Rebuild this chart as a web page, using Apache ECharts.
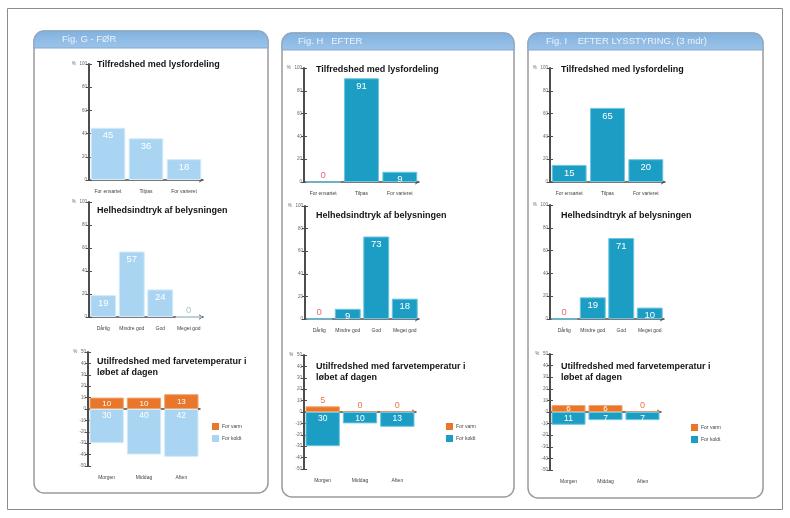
<!DOCTYPE html>
<html>
<head>
<meta charset="utf-8">
<script src="https://cdn.jsdelivr.net/npm/echarts/dist/echarts.min.js"></script>
<style>
  html, body { margin: 0; padding: 0; background: #fff; }
  #c { width: 790px; height: 518px; }
</style>
</head>
<body>
<div id="c"></div>
<script>
// ---- data -------------------------------------------------------------
const panelTitles = ['Fig. G - FØR', 'Fig. H   EFTER', 'Fig. I    EFTER LYSSTYRING, (3 mdr)'];
const chartTitles = ['Tilfredshed med lysfordeling', 'Helhedsindtryk af belysningen',
                     'Utilfredshed med farvetemperatur i\nløbet af dagen'];

const fordelingCats = ['For ensartet', 'Tilpas', 'For varieret'];
const fordelingFoer = [45, 36, 18];
const fordelingEfter = [0, 91, 9];
const fordelingStyring = [15, 65, 20];

const indtrykCats = ['Dårlig', 'Mindre god', 'God', 'Meget god'];
const indtrykFoer = [19, 57, 24, 0];
const indtrykEfter = [0, 9, 73, 18];
const indtrykStyring = [0, 19, 71, 10];

const dagCats = ['Morgen', 'Middag', 'Aften'];
const legendNames = ['For varm', 'For koldt'];
const forVarmFoer = [10, 10, 13];
const forKoldtFoer = [-30, -40, -42];
const forVarmEfter = [5, 0, 0];
const forKoldtEfter = [-30, -10, -13];
const forVarmStyring = [6, 6, 0];
const forKoldtStyring = [-11, -7, -7];

const pctAxis = { min: 0, max: 100, interval: 20 };
const tempAxis = { min: -50, max: 50, interval: 10 };

// ---- styling ----------------------------------------------------------
const FONT = '"Liberation Sans", Arial, sans-serif';
const C = {
  light: '#a9d5f2', lightEdge: '#d4ebfa',
  teal: '#1c9dc4', tealEdge: '#6cc5e0',
  orange: '#e8772b', orangeEdge: '#f3a56c',
  axis: '#4d4d4d', tick: '#6a6a6a',
  zeroRed: '#e46b78', zeroPale: '#9fcbc2', zeroOrange: '#e8774a'
};

const panels = [
  { title: panelTitles[0], fill: C.light, edge: C.lightEdge, zero: C.zeroPale,
    fordeling: fordelingFoer, indtryk: indtrykFoer, varm: forVarmFoer, koldt: forKoldtFoer,
    box: { x: 34, y: 31, w: 234, h: 462 }, titleX: 97, headX: 62,
    grids: [{ l: 89, r: 203, t: 64, b: 180 }, { l: 89, r: 203, t: 202, b: 317 }, { l: 88, r: 200, t: 352, b: 466 }],
    titleY: [59, 205, 356], legend: { x: 212, y: 423 } },
  { title: panelTitles[1], fill: C.teal, edge: C.tealEdge, zero: C.zeroRed,
    fordeling: fordelingEfter, indtryk: indtrykEfter, varm: forVarmEfter, koldt: forKoldtEfter,
    box: { x: 282, y: 33, w: 232, h: 464 }, titleX: 316, headX: 298,
    grids: [{ l: 304, r: 419, t: 68, b: 182 }, { l: 305, r: 419, t: 206, b: 319 }, { l: 304, r: 416, t: 355, b: 469 }],
    titleY: [64, 210, 361], legend: { x: 446, y: 423 } },
  { title: panelTitles[2], fill: C.teal, edge: C.tealEdge, zero: C.zeroRed,
    fordeling: fordelingStyring, indtryk: indtrykStyring, varm: forVarmStyring, koldt: forKoldtStyring,
    box: { x: 528, y: 33, w: 235, h: 465 }, titleX: 561, headX: 546,
    grids: [{ l: 550, r: 665, t: 68, b: 182 }, { l: 550, r: 664, t: 205, b: 319 }, { l: 550, r: 661, t: 354, b: 470 }],
    titleY: [64, 210, 361], legend: { x: 691, y: 424 } }
];

const option = {
  animation: false,
  backgroundColor: '#fff',
  textStyle: { fontFamily: FONT },
  title: [], legend: [], grid: [], xAxis: [], yAxis: [], series: [], graphic: []
};

// outer frame
option.graphic.push({
  type: 'rect', z: -20, silent: true,
  shape: { x: 7.5, y: 8.5, width: 775, height: 501 },
  style: { fill: '#fff', stroke: '#8c8c8c', lineWidth: 1 }
});

// two y axes on the left of each grid: one with outward ticks and labels,
// one with inward ticks, so the ticks cross the axis line
function yAxes(gi, scale) {
  const top = scale.max;
  const common = {
    gridIndex: gi, type: 'value', position: 'left',
    min: scale.min, max: scale.max, interval: scale.interval,
    splitLine: { show: false }
  };
  return [
    Object.assign({}, common, {
      axisLine: { show: true, onZero: false, lineStyle: { color: C.axis, width: 2 } },
      axisTick: { show: true, length: 3, lineStyle: { color: C.axis, width: 1 } },
      axisLabel: { fontSize: 4.5, color: C.tick, margin: 2,
                   formatter: v => (v === top ? '%   ' + v : String(v)) }
    }),
    Object.assign({}, common, {
      axisLine: { show: false, onZero: false },
      axisTick: { show: true, inside: true, length: 3, lineStyle: { color: C.axis, width: 1 } },
      axisLabel: { show: false }
    })
  ];
}

function gridOf(g) {
  return { left: g.l, top: g.t, width: g.r - g.l, height: g.b - g.t, containLabel: false };
}

function addBarChart(p, g, cats, values) {
  const gi = option.grid.length;
  option.grid.push(gridOf(g));
  const xi = option.xAxis.length;
  option.xAxis.push({
    gridIndex: gi, type: 'category', data: cats,
    axisLine: { lineStyle: { color: C.axis, width: 1.5 }, symbol: ['none', 'arrow'], symbolSize: [4, 4] },
    axisTick: { show: false },
    axisLabel: { interval: 0, fontSize: 5, color: '#444', margin: 9 }
  });
  const yi = option.yAxis.length;
  option.yAxis.push(...yAxes(gi, pctAxis));
  option.series.push({
    type: 'bar', xAxisIndex: xi, yAxisIndex: yi,
    barCategoryGap: '9%',
    itemStyle: { color: p.fill, borderColor: p.edge, borderWidth: 1 },
    label: { show: true, position: 'insideTop', distance: 3, color: '#fff', fontSize: 9.5 },
    data: values.map(v => v === 0
      ? { value: v, label: { position: 'top', distance: 1, color: p.zero } }
      : { value: v })
  });
}

function addTempChart(p, g) {
  const gi = option.grid.length;
  option.grid.push(gridOf(g));
  const xi = option.xAxis.length;
  // axis line through zero
  option.xAxis.push({
    gridIndex: gi, type: 'category', data: dagCats,
    axisLine: { onZero: true, lineStyle: { color: C.axis, width: 1.5 }, symbol: ['none', 'arrow'], symbolSize: [4, 4] },
    axisTick: { show: false }, axisLabel: { show: false }
  });
  // category names along the bottom
  option.xAxis.push({
    gridIndex: gi, type: 'category', data: dagCats, position: 'bottom',
    axisLine: { show: false, onZero: false }, axisTick: { show: false },
    axisLabel: { interval: 0, fontSize: 5, color: '#444', margin: 9 }
  });
  const yi = option.yAxis.length;
  option.yAxis.push(...yAxes(gi, tempAxis));
  option.series.push({
    type: 'bar', name: legendNames[0], xAxisIndex: xi, yAxisIndex: yi,
    barCategoryGap: '8%', barGap: '-100%',
    itemStyle: { color: C.orange, borderColor: C.orangeEdge, borderWidth: 1 },
    label: { show: true, position: 'inside', color: '#fff', fontSize: 8 },
    data: p.varm.map(v => v <= 5
      ? { value: v, label: { position: 'top', distance: 1, color: C.zeroOrange, fontSize: 9 } }
      : { value: v })
  });
  option.series.push({
    type: 'bar', name: legendNames[1], xAxisIndex: xi, yAxisIndex: yi,
    barCategoryGap: '8%', barGap: '-100%',
    itemStyle: { color: p.fill, borderColor: p.edge, borderWidth: 1 },
    label: { show: true, position: 'insideTop', distance: 2, color: '#fff', fontSize: 8.5,
             formatter: d => String(Math.abs(d.value)) },
    data: p.koldt.slice()
  });
  option.legend.push({
    orient: 'vertical', left: p.legend.x, top: p.legend.y, icon: 'rect', padding: 0,
    itemWidth: 7, itemHeight: 7, itemGap: 5, selectedMode: false,
    textStyle: { fontSize: 5, color: '#444', padding: [0, 0, 0, -2] },
    data: [
      { name: legendNames[0], itemStyle: { color: C.orange, borderWidth: 0 } },
      { name: legendNames[1], itemStyle: { color: p.fill, borderWidth: 0 } }
    ]
  });
}

panels.forEach(p => {
  const b = p.box;
  option.graphic.push({
    type: 'rect', z: -10, silent: true,
    shape: { x: b.x, y: b.y, width: b.w, height: b.h, r: 10 },
    style: { fill: '#fff', stroke: '#9b9b9b', lineWidth: 1.5 }
  });
  option.graphic.push({
    type: 'rect', z: -9, silent: true,
    shape: { x: b.x, y: b.y, width: b.w, height: 17, r: [10, 10, 0, 0] },
    style: {
      fill: new echarts.graphic.LinearGradient(0, 0, 0, 1, [
        { offset: 0, color: '#82b1de' }, { offset: 1, color: '#9cc4ea' }]),
      stroke: '#86a9cc', lineWidth: 1
    }
  });
  option.title.push({
    text: p.title, left: p.headX, top: b.y + 3.5, padding: 0,
    textStyle: { fontSize: 9.5, color: '#eaf3fc', fontWeight: 'normal', fontFamily: FONT }
  });
  chartTitles.forEach((t, i) => {
    option.title.push({
      text: t, left: p.titleX, top: p.titleY[i], padding: 0,
      textStyle: { fontSize: 9, fontWeight: 'bold', color: '#141414', lineHeight: 11, fontFamily: FONT }
    });
  });
  addBarChart(p, p.grids[0], fordelingCats, p.fordeling);
  addBarChart(p, p.grids[1], indtrykCats, p.indtryk);
  addTempChart(p, p.grids[2]);
});

const chart = echarts.init(document.getElementById('c'), null, { renderer: 'canvas' });
chart.setOption(option);
</script>
</body>
</html>
